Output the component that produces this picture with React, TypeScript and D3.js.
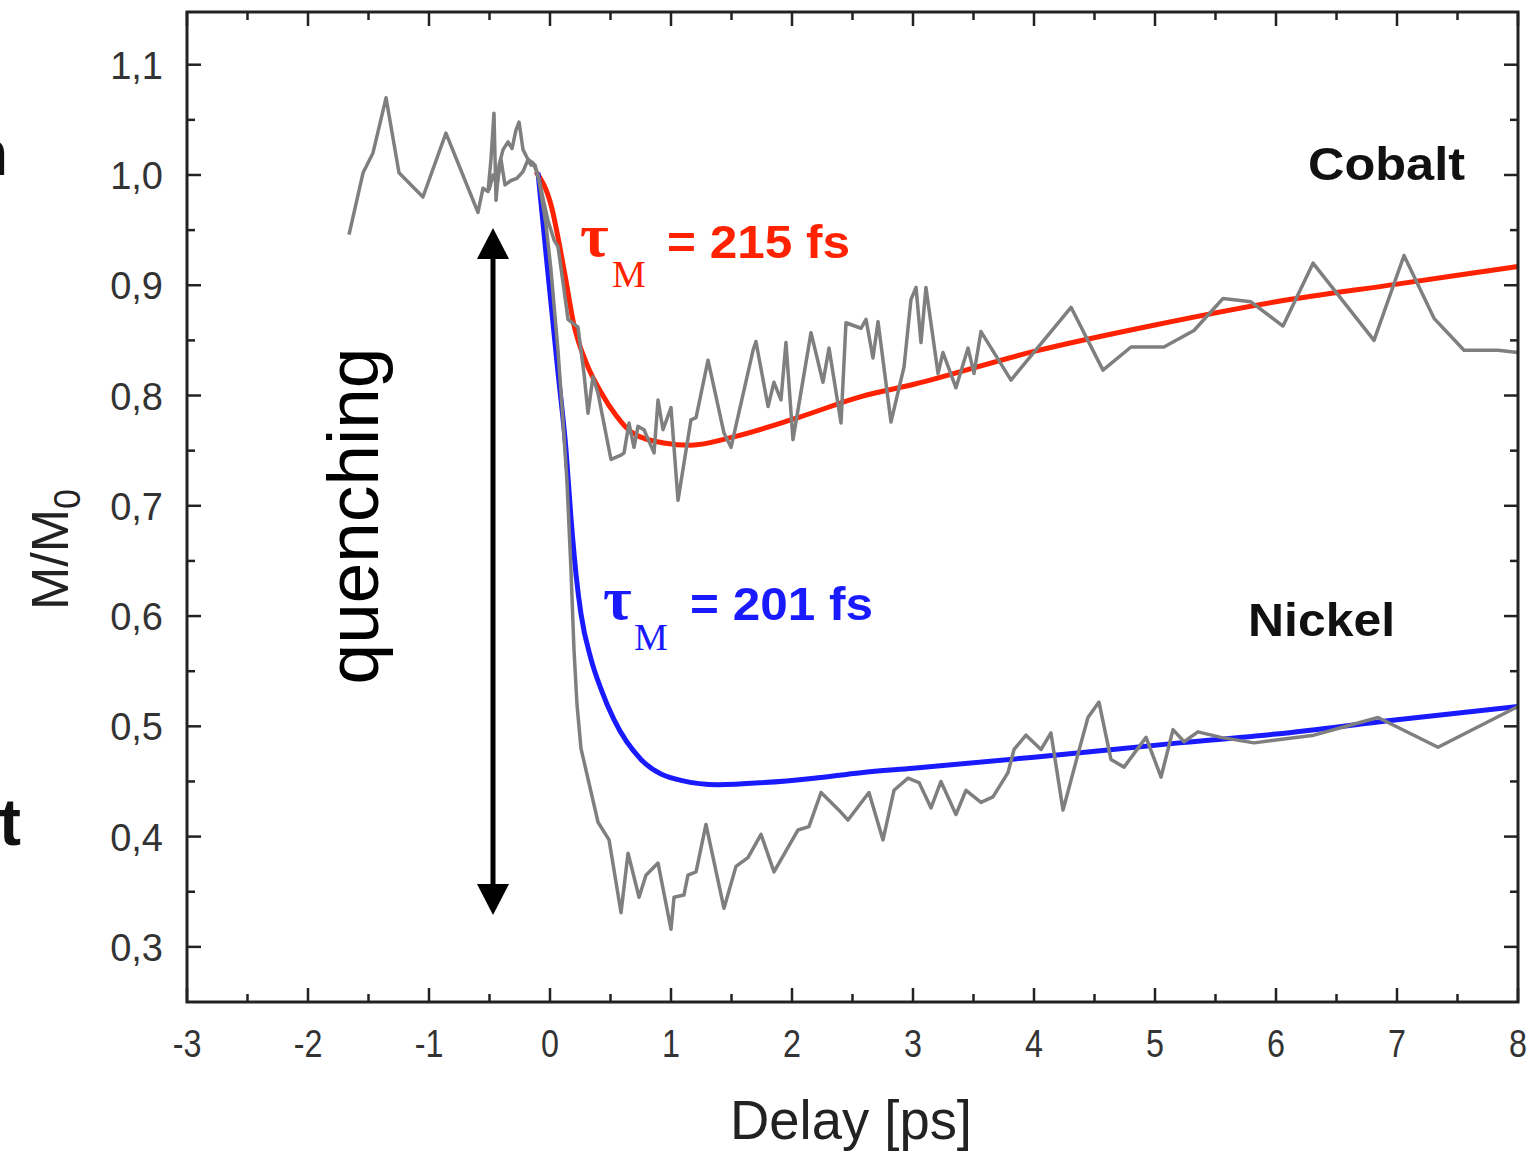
import React from 'react';
import * as d3 from 'd3';

// ---- data ----
const cobaltDelay = [-1.661, -1.545, -1.463, -1.355, -1.248, -1.05, -0.86, -0.595, -0.554, -0.512, -0.488, -0.463, -0.446, -0.421, -0.388, -0.347, -0.314, -0.281, -0.256, -0.223, -0.182, -0.14, -0.099, -0.05, -0.017, 0.033, 0.066, 0.116, 0.149, 0.231, 0.281, 0.314, 0.355, 0.397, 0.504, 0.587, 0.612, 0.653, 0.694, 0.727, 0.777, 0.86, 0.893, 0.934, 1.0, 1.058, 1.165, 1.207, 1.306, 1.438, 1.496, 1.678, 1.702, 1.802, 1.851, 1.909, 1.95, 2.008, 2.157, 2.256, 2.306, 2.405, 2.446, 2.57, 2.612, 2.669, 2.711, 2.818, 2.926, 2.983, 3.025, 3.066, 3.107, 3.207, 3.248, 3.355, 3.455, 3.504, 3.562, 3.81, 4.306, 4.57, 4.802, 5.074, 5.322, 5.562, 5.793, 6.058, 6.306, 6.81, 7.058, 7.306, 7.554, 7.835, 8.0];
const cobaltM = [0.946, 1.002, 1.02, 1.07, 1.002, 0.98, 1.038, 0.966, 0.988, 0.985, 1.014, 1.056, 0.977, 1.009, 1.023, 1.03, 1.024, 1.041, 1.048, 1.023, 1.014, 1.011, 1.0, 0.975, 0.959, 0.941, 0.935, 0.896, 0.869, 0.862, 0.82, 0.784, 0.817, 0.802, 0.742, 0.746, 0.748, 0.775, 0.753, 0.772, 0.769, 0.748, 0.796, 0.769, 0.789, 0.705, 0.778, 0.78, 0.832, 0.766, 0.753, 0.841, 0.849, 0.79, 0.812, 0.796, 0.848, 0.76, 0.857, 0.812, 0.843, 0.775, 0.866, 0.861, 0.869, 0.834, 0.867, 0.776, 0.826, 0.887, 0.898, 0.848, 0.898, 0.82, 0.839, 0.807, 0.843, 0.82, 0.858, 0.814, 0.88, 0.823, 0.844, 0.844, 0.859, 0.888, 0.885, 0.863, 0.92, 0.85, 0.927, 0.87, 0.841, 0.841, 0.839];

const nickelDelay = [-0.504, -0.471, -0.438, -0.405, -0.372, -0.322, -0.273, -0.223, -0.182, -0.157, -0.124, -0.091, -0.033, 0.008, 0.066, 0.107, 0.14, 0.174, 0.198, 0.223, 0.256, 0.397, 0.488, 0.587, 0.645, 0.736, 0.793, 0.893, 1.0, 1.025, 1.107, 1.14, 1.207, 1.289, 1.438, 1.537, 1.636, 1.744, 1.851, 2.05, 2.14, 2.24, 2.405, 2.463, 2.636, 2.752, 2.843, 2.959, 3.05, 3.149, 3.231, 3.355, 3.438, 3.562, 3.661, 3.785, 3.835, 3.934, 4.058, 4.14, 4.24, 4.364, 4.446, 4.537, 4.636, 4.744, 4.926, 5.05, 5.149, 5.24, 5.355, 5.545, 5.818, 6.314, 6.843, 7.339, 8.0];
const nickelM = [0.986, 1.0, 0.991, 1.014, 0.991, 0.995, 0.997, 1.003, 1.014, 1.009, 1.009, 0.995, 0.955, 0.914, 0.841, 0.778, 0.723, 0.64, 0.57, 0.52, 0.48, 0.413, 0.397, 0.331, 0.385, 0.345, 0.365, 0.376, 0.316, 0.345, 0.347, 0.365, 0.368, 0.411, 0.335, 0.373, 0.381, 0.402, 0.368, 0.406, 0.409, 0.44, 0.422, 0.415, 0.44, 0.397, 0.442, 0.453, 0.449, 0.426, 0.45, 0.42, 0.442, 0.431, 0.436, 0.458, 0.479, 0.492, 0.479, 0.494, 0.424, 0.475, 0.508, 0.522, 0.47, 0.463, 0.49, 0.454, 0.497, 0.486, 0.495, 0.49, 0.485, 0.492, 0.508, 0.481, 0.518];

const cobaltFitDelay = [-0.116, 0.008, 0.116, 0.198, 0.298, 0.421, 0.545, 0.669, 0.94, 1.165, 1.5, 2.05, 2.57, 3.0, 4.0, 5.0, 6.0, 7.0, 8.0];
const cobaltFitM = [1.003, 0.973, 0.914, 0.864, 0.83, 0.803, 0.782, 0.767, 0.757, 0.755, 0.762, 0.78, 0.799, 0.81, 0.84, 0.864, 0.885, 0.901, 0.917];

const nickelFitDelay = [-0.099, -0.017, 0.066, 0.132, 0.174, 0.215, 0.256, 0.339, 0.421, 0.529, 0.752, 1.083, 1.388, 1.77, 2.18, 2.57, 3.0, 4.0, 5.2, 6.0, 7.0, 8.0];
const nickelFitM = [1.002, 0.911, 0.821, 0.751, 0.688, 0.638, 0.602, 0.561, 0.534, 0.506, 0.47, 0.451, 0.447, 0.449, 0.453, 0.458, 0.462, 0.472, 0.485, 0.493, 0.506, 0.518];

const xMajorTicks = [-3, -2, -1, 0, 1, 2, 3, 4, 5, 6, 7, 8];
const xTickLabels = ['-3', '-2', '-1', '0', '1', '2', '3', '4', '5', '6', '7', '8'];
const yMajorTicks = [0.3, 0.4, 0.5, 0.6, 0.7, 0.8, 0.9, 1.0, 1.1];
const yTickLabels = ['0,3', '0,4', '0,5', '0,6', '0,7', '0,8', '0,9', '1,0', '1,1'];

const xDomain = [-3, 8];
const yDomain = [0.25, 1.1478];
const quenchingTop = 0.952;
const quenchingBottom = 0.329;

export default function App() {
  const W = 1529, H = 1152;
  const left = 187, right = 1518, top = 12, bottom = 1002;
  const x = d3.scaleLinear().domain(xDomain).range([left, right]);
  const y = d3.scaleLinear().domain(yDomain).range([bottom, top]);

  const dataLine = (xs: number[], ys: number[]) =>
    d3.line<number>().x((_, i) => x(xs[i])).y((_, i) => y(ys[i]))(xs.map((_, i) => i)) || '';
  const fitLine = (xs: number[], ys: number[]) =>
    d3.line<number>().x((_, i) => x(xs[i])).y((_, i) => y(ys[i])).curve(d3.curveMonotoneX)(xs.map((_, i) => i)) || '';

  const xMinor = d3.range(-2.5, 8, 1);
  const yMinor = d3.range(0.35, 1.15, 0.1);
  const majLen = 14, minLen = 8;
  const axisColor = '#222';
  const sans = "'Liberation Sans', Arial, Helvetica, sans-serif";
  const serif = "'Liberation Serif', 'Times New Roman', serif";
  const red = '#ff2200';
  const blue = '#1a1aff';

  const arrowX = 493;
  const arrowTop = y(quenchingTop);
  const arrowBot = y(quenchingBottom);

  return (
    <svg width={W} height={H} style={{ position: 'absolute', left: 0, top: 0, background: '#fff' }} fontFamily={sans}>
      <rect x={0} y={0} width={W} height={H} fill="#fff" />
      {/* slide remnants at left edge */}
      <text x={-31} y={175} fontSize={64} fontWeight="bold" fill="#111">n</text>
      <text x={-1} y={845} fontSize={66} fontWeight="bold" fill="#111">t</text>

      {/* data */}
      <path d={fitLine(cobaltFitDelay, cobaltFitM)} fill="none" stroke={red} strokeWidth={5} />
      <path d={fitLine(nickelFitDelay, nickelFitM)} fill="none" stroke={blue} strokeWidth={5} />
      <path d={dataLine(cobaltDelay, cobaltM)} fill="none" stroke="#7f7f7f" strokeWidth={3.5} strokeLinejoin="round" />
      <path d={dataLine(nickelDelay, nickelM)} fill="none" stroke="#7f7f7f" strokeWidth={3.5} strokeLinejoin="round" />

      {/* frame */}
      <rect x={left} y={top} width={right - left} height={bottom - top} fill="none" stroke={axisColor} strokeWidth={3} />
      {xMajorTicks.map((t) => (
        <g key={'xm' + t}>
          <line x1={x(t)} x2={x(t)} y1={bottom} y2={bottom - majLen} stroke={axisColor} strokeWidth={2.5} />
          <line x1={x(t)} x2={x(t)} y1={top} y2={top + majLen} stroke={axisColor} strokeWidth={2.5} />
        </g>
      ))}
      {xMinor.map((t) => (
        <g key={'xn' + t}>
          <line x1={x(t)} x2={x(t)} y1={bottom} y2={bottom - minLen} stroke={axisColor} strokeWidth={2.5} />
          <line x1={x(t)} x2={x(t)} y1={top} y2={top + minLen} stroke={axisColor} strokeWidth={2.5} />
        </g>
      ))}
      {yMajorTicks.map((t) => (
        <g key={'ym' + t}>
          <line x1={left} x2={left + majLen} y1={y(t)} y2={y(t)} stroke={axisColor} strokeWidth={2.5} />
          <line x1={right} x2={right - majLen} y1={y(t)} y2={y(t)} stroke={axisColor} strokeWidth={2.5} />
        </g>
      ))}
      {yMinor.map((t) => (
        <g key={'yn' + t}>
          <line x1={left} x2={left + minLen} y1={y(t)} y2={y(t)} stroke={axisColor} strokeWidth={2.5} />
          <line x1={right} x2={right - minLen} y1={y(t)} y2={y(t)} stroke={axisColor} strokeWidth={2.5} />
        </g>
      ))}

      {/* tick labels */}
      {xMajorTicks.map((t, i) => (
        <text key={'xl' + t} x={x(t)} y={1057} fontSize={38} fill="#333" textAnchor="middle"
          transform={`translate(${x(t)},0) scale(0.85,1) translate(${-x(t)},0)`}>{xTickLabels[i]}</text>
      ))}
      {yMajorTicks.map((t, i) => (
        <text key={'yl' + t} x={163} y={y(t) + 14} fontSize={38} fill="#333" textAnchor="end">{yTickLabels[i]}</text>
      ))}

      {/* axis titles */}
      <text x={851} y={1139} fontSize={56} fill="#222" textAnchor="middle" textLength={242} lengthAdjust="spacingAndGlyphs">Delay [ps]</text>
      <text transform="translate(68,610) rotate(-90)" fontSize={52} fill="#222">
        M/M<tspan fontSize={36} dy={12}>0</tspan>
      </text>

      {/* quenching arrow */}
      <line x1={arrowX} x2={arrowX} y1={arrowTop + 25} y2={arrowBot - 25} stroke="#000" strokeWidth={5} />
      <path d={`M${arrowX},${arrowTop} L${arrowX - 16},${arrowTop + 31} L${arrowX + 16},${arrowTop + 31} Z`} fill="#000" />
      <path d={`M${arrowX},${arrowBot} L${arrowX - 16},${arrowBot - 31} L${arrowX + 16},${arrowBot - 31} Z`} fill="#000" />
      <text transform="translate(378,516) rotate(-90)" fontSize={73} fill="#000" textAnchor="middle">quenching</text>

      {/* annotations */}
      <text x={1308} y={180} fontSize={47} fontWeight="bold" fill="#111" textLength={157} lengthAdjust="spacingAndGlyphs">Cobalt</text>
      <text x={1248} y={636} fontSize={47} fontWeight="bold" fill="#111" textLength={147} lengthAdjust="spacingAndGlyphs">Nickel</text>

      <text x={580} y={256} fontSize={62} fontWeight="bold" fill={red} fontFamily={serif}>τ</text>
      <text x={612} y={287} fontSize={38} fill={red} fontFamily={serif}>M</text>
      <text x={667} y={258} fontSize={47} fontWeight="bold" fill={red} textLength={183} lengthAdjust="spacingAndGlyphs">= 215 fs</text>

      <text x={603} y={619} fontSize={62} fontWeight="bold" fill={blue} fontFamily={serif}>τ</text>
      <text x={634} y={650} fontSize={38} fill={blue} fontFamily={serif}>M</text>
      <text x={690} y={620} fontSize={47} fontWeight="bold" fill={blue} textLength={183} lengthAdjust="spacingAndGlyphs">= 201 fs</text>
    </svg>
  );
}
